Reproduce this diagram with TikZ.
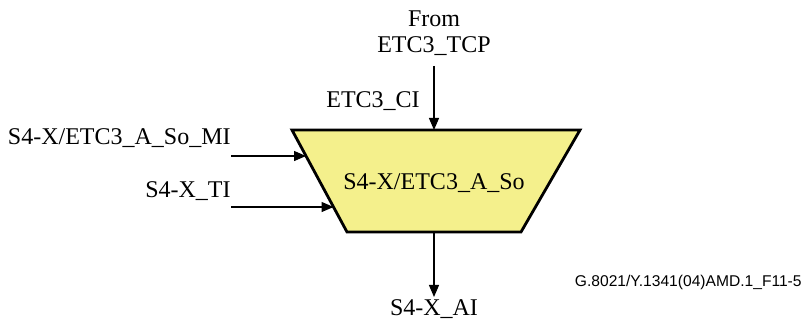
\documentclass[tikz,border=0pt]{standalone}
\usepackage{fontspec}
\setmainfont{Liberation Serif}
\newfontfamily\codefont{Liberation Sans}
\usetikzlibrary{arrows.meta,calc}
\definecolor{cAdapt}{HTML}{F4F08C}

\begin{document}
\begin{tikzpicture}[x=0.5pt,y=-0.5pt,>={Triangle[length=6pt,width=5pt]},
  font=\fontsize{12}{13}\selectfont,
  lbl/.style={inner sep=0pt},
  sig/.style={->,line width=0.6pt},
  afn/.style={draw,fill=cAdapt,line width=1.4pt,line join=miter}]
\useasboundingbox (0,0) rectangle (804,320);
% adaptation function
\coordinate (tl) at (292,130); \coordinate (tr) at (580,130);
\coordinate (br) at (521,232); \coordinate (bl) at (347,232);
\draw[afn] (tl)--(tr)--(br)--(bl)--cycle;
\node[lbl,anchor=base] (so) at (434,190) {S4-X/ETC3\_A\_So};
% top input
\node[lbl,align=center,anchor=south,outer sep=5pt] (tcp) at (434,66) {From\\ETC3\_TCP};
\draw[sig] (tcp.south) -- (tcp.south |- tl);
\node[lbl,anchor=base] (ci) at (373,108) {ETC3\_CI};
% left inputs
\node[lbl,anchor=base east] (mi) at (231,145) {S4-X/ETC3\_A\_So\_MI};
\coordinate (miin) at ($(tl)!0.255!(bl)$);
\draw[sig] (miin -| mi.east) -- (miin);
\node[lbl,anchor=base east] (ti) at (231,198) {S4-X\_TI};
\coordinate (tiin) at ($(tl)!0.755!(bl)$);
\draw[sig] (tiin -| ti.east) -- (tiin);
% output
\node[lbl,anchor=north,outer sep=1.5pt] (ai) at (434,297) {S4-X\_AI};
\draw[sig] (ai.north |- bl) -- (ai.north);
% figure code
\node[lbl,anchor=east,font=\codefont\fontsize{7.8}{9}\selectfont] (code) at (802,282) {G.8021/Y.1341(04)AMD.1\_F11-5};
\end{tikzpicture}
\end{document}
